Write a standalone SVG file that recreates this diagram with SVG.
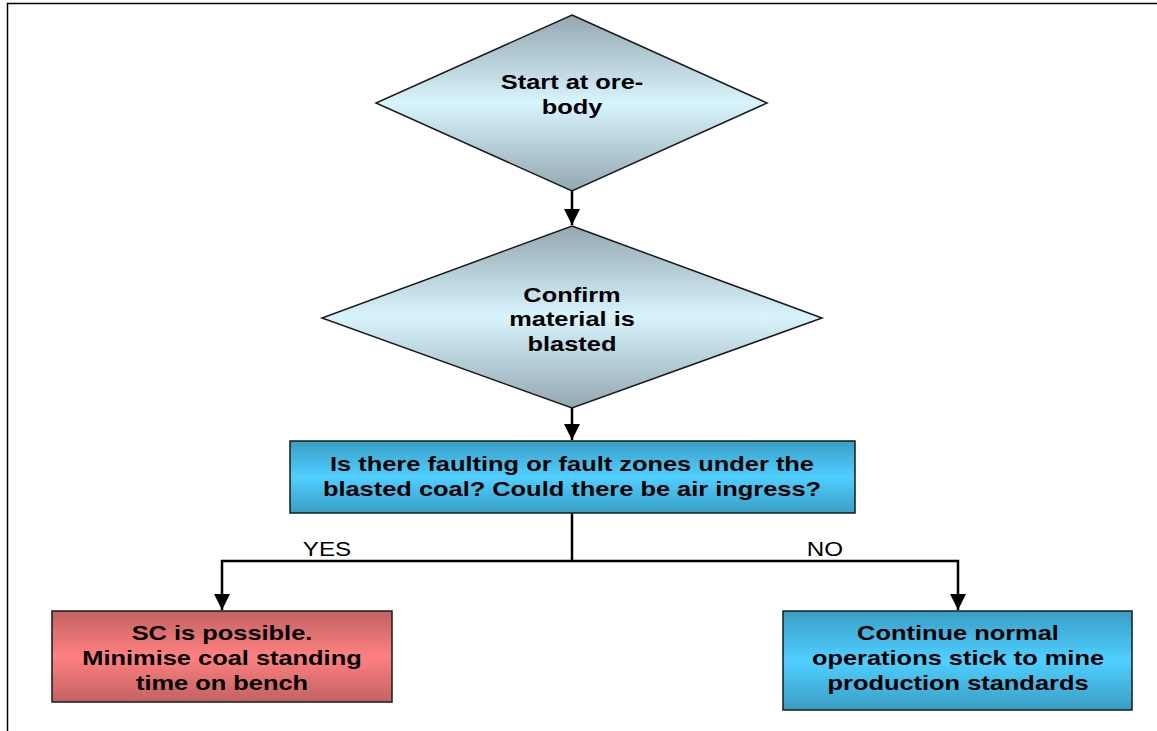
<svg xmlns="http://www.w3.org/2000/svg" width="1157" height="731" viewBox="0 0 1157 731">
<style>
.lbl{font-family:"Liberation Sans",Arial,sans-serif;font-weight:bold;font-size:21px;fill:#000;text-anchor:middle}
.yn{font-family:"Liberation Sans",Arial,sans-serif;font-size:20px;fill:#000;text-anchor:middle}
.shape{stroke:#1a1a1a;stroke-width:1.5}
.conn{stroke:#000;stroke-width:2.5;fill:none}
</style>
<defs>
<linearGradient id="gDia" x1="0" y1="0" x2="0" y2="1">
<stop offset="0" stop-color="#93a7b1"/>
<stop offset="0.5" stop-color="#d8f4fd"/>
<stop offset="1" stop-color="#93a7b1"/>
</linearGradient>
<linearGradient id="gBlue" x1="0" y1="0" x2="0" y2="1">
<stop offset="0" stop-color="#3a9ec4"/>
<stop offset="0.5" stop-color="#4fcfff"/>
<stop offset="1" stop-color="#3a9ec4"/>
</linearGradient>
<linearGradient id="gRed" x1="0" y1="0" x2="0" y2="1">
<stop offset="0" stop-color="#c26262"/>
<stop offset="0.5" stop-color="#ff8080"/>
<stop offset="1" stop-color="#c26262"/>
</linearGradient>
<marker id="arr" markerWidth="8" markerHeight="8" refX="7" refY="4" orient="auto" markerUnits="userSpaceOnUse" viewBox="0 0 8 8">
<path d="M0,0 L8,4 L0,8 z" fill="#000"/>
</marker>
<marker id="arrow" viewBox="0 0 16 16" refX="16" refY="8" markerWidth="16" markerHeight="16" markerUnits="userSpaceOnUse" orient="auto">
<path d="M0,0 L16,8 L0,16 z" fill="#000"/>
</marker>
</defs>
<rect width="1157" height="731" fill="#fff"/>
<path d="M7.5,731 V3.5 H1157" fill="none" stroke="#000" stroke-width="1.5"/>
<g id="connectors">
<path class="conn" d="M572,191 V225" marker-end="url(#arrow)"/>
<path class="conn" d="M572,408 V440" marker-end="url(#arrow)"/>
<path class="conn" d="M572,513 V561"/>
<path class="conn" d="M572,561 H222 V610" marker-end="url(#arrow)"/>
<path class="conn" d="M572,561 H958 V610" marker-end="url(#arrow)"/>
<text class="yn" transform="translate(327 0) scale(1.21 1)" x="0" y="556">YES</text>
<text class="yn" transform="translate(825 0) scale(1.21 1)" x="0" y="556">NO</text>
</g>
<g id="start">
<polygon class="shape" fill="url(#gDia)" points="572,15 767,103 572,191 376,103"/>
<g transform="translate(572 0) scale(1.21 1)">
<text class="lbl" x="0" y="89">Start at ore-</text>
<text class="lbl" x="0" y="114">body</text>
</g>
</g>
<g id="confirm">
<polygon class="shape" fill="url(#gDia)" points="572,226 822,318 572,408 322,318"/>
<g transform="translate(572 0) scale(1.21 1)">
<text class="lbl" x="0" y="302">Confirm</text>
<text class="lbl" x="0" y="326">material is</text>
<text class="lbl" x="0" y="351">blasted</text>
</g>
</g>
<g id="faulting">
<rect class="shape" fill="url(#gBlue)" x="290" y="441" width="565" height="72"/>
<g transform="translate(572 0) scale(1.21 1)">
<text class="lbl" x="0" y="471">Is there faulting or fault zones under the</text>
<text class="lbl" x="0" y="496">blasted coal? Could there be air ingress?</text>
</g>
</g>
<g id="sc-possible">
<rect class="shape" fill="url(#gRed)" x="52" y="611" width="340" height="91"/>
<g transform="translate(222 0) scale(1.21 1)">
<text class="lbl" x="0" y="640">SC is possible.</text>
<text class="lbl" x="0" y="665">Minimise coal standing</text>
<text class="lbl" x="0" y="690">time on bench</text>
</g>
</g>
<g id="continue">
<rect class="shape" fill="url(#gBlue)" x="783" y="611" width="349" height="99"/>
<g transform="translate(958 0) scale(1.21 1)">
<text class="lbl" x="0" y="640">Continue normal</text>
<text class="lbl" x="0" y="665">operations stick to mine</text>
<text class="lbl" x="0" y="690">production standards</text>
</g>
</g>
</svg>
